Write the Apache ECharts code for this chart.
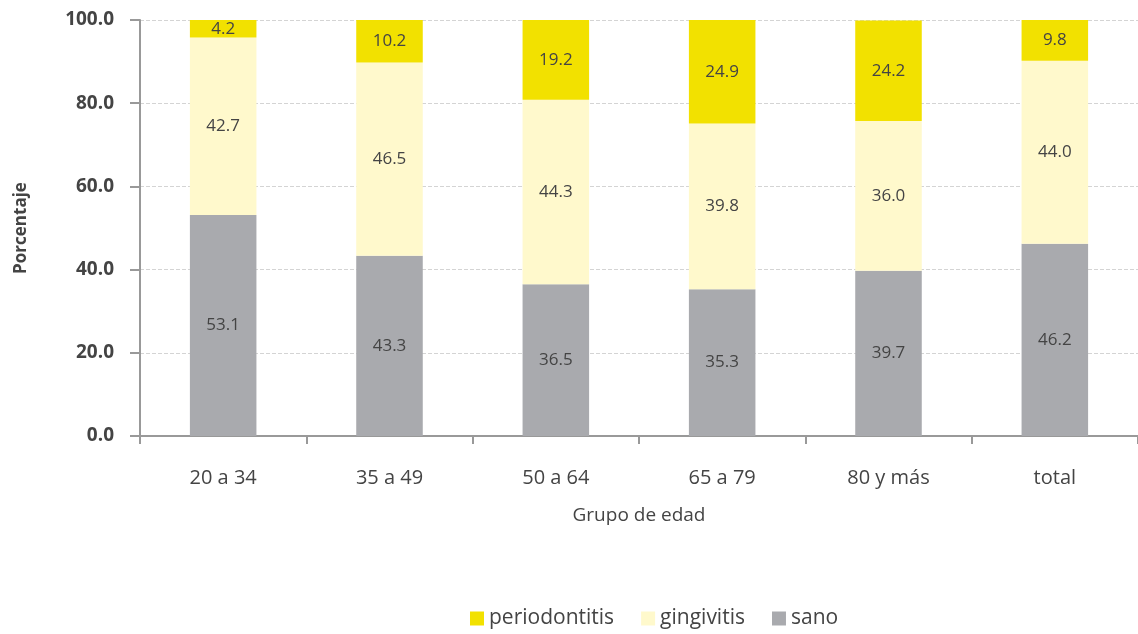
<!DOCTYPE html>
<html>
<head>
<meta charset="utf-8">
<script src="https://cdn.jsdelivr.net/npm/echarts@6/dist/echarts.min.js"></script>
<style>
  html, body { margin: 0; padding: 0; background: #fff; }
  #main { width: 1138px; height: 634px; }
</style>
</head>
<body>
<div id="main"></div>
<script>
// datos
var grupos = ['20 a 34', '35 a 49', '50 a 64', '65 a 79', '80 y más', 'total'];
var sano = [53.1, 43.3, 36.5, 35.3, 39.7, 46.2];
var gingivitis = [42.7, 46.5, 44.3, 39.8, 36.0, 44.0];
var periodontitis = [4.2, 10.2, 19.2, 24.9, 24.2, 9.8];

var fuente = 'Open Sans';
var gris = '#444';

function serie(nombre, datos, color){
    return {
        name: nombre,
        type: 'bar',
        stack: 'a',
        barWidth: '40%',
        data: datos,
        itemStyle: { color: color },
        label: {
            show: true,
            position: 'inside',
            color: gris,
            fontFamily: fuente,
            fontSize: 17,
            formatter: function(p){ return p.value.toFixed(1); }
        }
    };
}

var myChart = echarts.init(document.getElementById('main'));
var option = {
    animation: false,
    textStyle: { fontFamily: fuente },
    grid: { left: 140, right: 0, top: 20, bottom: 198 },
    legend: {
        bottom: 0,
        left: 465,
        itemWidth: 14,
        itemHeight: 14,
        itemGap: 27,
        icon: 'rect',
        textStyle: { color: gris, fontSize: 21, fontFamily: fuente },
        data: ['periodontitis', 'gingivitis', 'sano']
    },
    xAxis: {
        type: 'category',
        data: grupos,
        name: 'Grupo de edad',
        nameLocation: 'middle',
        nameGap: 70,
        nameTextStyle: { color: gris, fontSize: 19, fontFamily: fuente },
        axisLine: { lineStyle: { color: '#999', width: 2 } },
        axisTick: { show: true, length: 8, lineStyle: { color: '#999', width: 2 } },
        axisLabel: { color: gris, fontSize: 20, margin: 32, fontFamily: fuente }
    },
    yAxis: {
        type: 'value',
        min: 0,
        max: 100,
        interval: 20,
        name: 'Porcentaje',
        nameLocation: 'middle',
        nameGap: 110,
        nameTextStyle: { color: gris, fontSize: 17, fontWeight: 'bold', fontFamily: fuente },
        axisLine: { show: true, lineStyle: { color: '#999', width: 2 } },
        axisTick: { show: true, length: 10, lineStyle: { color: '#999', width: 2 } },
        axisLabel: {
            color: gris,
            fontSize: 19,
            fontWeight: 'bold',
            margin: 26,
            fontFamily: fuente,
            formatter: function(v){ return v.toFixed(1); }
        },
        splitLine: { show: true, lineStyle: { color: '#d4d4d4', type: 'dashed' } }
    },
    series: [
        serie('sano', sano, '#a9aaae'),
        serie('gingivitis', gingivitis, '#fff9cc'),
        serie('periodontitis', periodontitis, '#f2e100')
    ]
};
myChart.setOption(option);
</script>
</body>
</html>
